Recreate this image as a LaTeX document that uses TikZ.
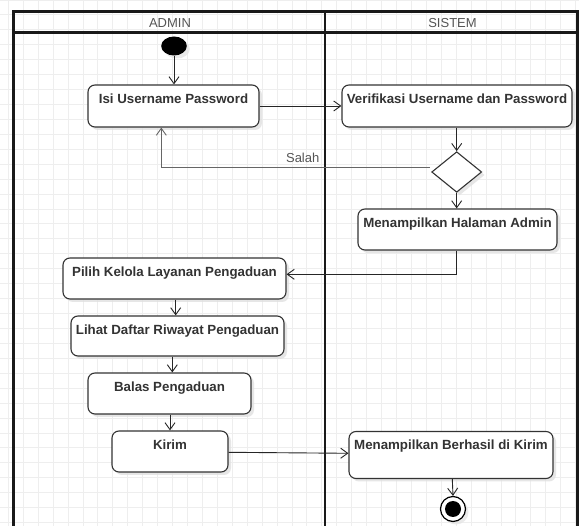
\documentclass[tikz,border=0pt]{standalone}
\usepackage{fontspec}
\setmainfont{Liberation Sans}
\usetikzlibrary{arrows.meta,shapes.geometric,shadows,calc}

\definecolor{gridgray}{HTML}{EEEEEE}
\definecolor{inkgray}{HTML}{333333}
\definecolor{labelgray}{HTML}{555555}

\tikzset{
  act/.style={draw=inkgray, line width=1.1pt, rounded corners=7pt, fill=white,
    font=\fontsize{13.3}{15}\selectfont\bfseries, text=inkgray,
    inner xsep=0pt, inner ysep=0pt, text height=19pt,
    drop shadow={shadow xshift=3pt, shadow yshift=-3pt, fill=black!12, opacity=0.8}},
  decision/.style={diamond, draw=inkgray, line width=1.1pt, fill=white,
    inner sep=0pt, minimum width=50pt, minimum height=40.6pt, aspect=1.23,
    drop shadow={shadow xshift=3pt, shadow yshift=-3pt, fill=black!12, opacity=0.8}},
  flow/.style={draw=black!85, line width=0.9pt, -{Straight Barb[length=7pt,width=10pt,line width=0.9pt]}},
  guardflow/.style={flow, draw=black!60, line width=1.4pt},
  lane/.style={draw=black!90, line width=2.2pt},
  lanetitle/.style={font=\fontsize{13}{15}\selectfont, text=labelgray},
}

\begin{document}
\begin{tikzpicture}[x=1pt, y=-1pt]
\useasboundingbox (0,0) rectangle (579,526);
\fill[white] (0,0) rectangle (579,526);

% background grid
\foreach \i in {0,...,38} {
  \draw[gridgray, line width=0.9pt] ({8.3+14.93*\i},0) -- ({8.3+14.93*\i},526);
}
\foreach \j in {0,...,35} {
  \draw[gridgray, line width=0.9pt] (0,{14.93*\j}) -- (579,{14.93*\j});
}

% swimlanes
\draw[lane] (13.5,526) -- (13.5,11.5) -- (577.5,11.5) -- (577.5,526);
\draw[lane] (13.5,32.5) -- (577.5,32.5);
\draw[lane] (325,11.5) -- (325,526);
\node[lanetitle] (ladmin) at (170,23.5) {ADMIN};
\node[lanetitle] (lsistem) at (452.5,23.5) {SISTEM};

% start and end
\node[ellipse, fill=black, minimum width=25.6pt, minimum height=19pt, inner sep=0pt,
  drop shadow={shadow xshift=3pt, shadow yshift=-3pt, fill=black!10, opacity=0.8}] (start) at (174,46) {};
\node[circle, draw=black, line width=1.2pt, fill=white, minimum size=25pt, inner sep=0pt,
  drop shadow={shadow xshift=3pt, shadow yshift=-3pt, fill=black!10, opacity=0.8}] (end) at (453,509) {};
\node[circle, fill=black, minimum size=16pt, inner sep=0pt] (endcore) at (end) {};

% activities
\node[act, minimum width=171pt, text depth=23pt] (b1) at (173.5,106) {Isi Username Password};
\node[act, minimum width=230pt, text depth=23pt] (b2) at (457,106) {Verifikasi Username dan Password};
\node[decision] (dia) at (456.7,172) {};
\node[act, minimum width=199pt, text depth=22pt] (b3) at (457.5,229.5) {Menampilkan Halaman Admin};
\node[act, minimum width=223pt, text depth=22pt] (b4) at (174.5,278.5) {Pilih Kelola Layanan Pengaduan};
\node[act, minimum width=213pt, text depth=21pt] (b5) at (177.5,336) {Lihat Daftar Riwayat Pengaduan};
\node[act, minimum width=163pt, text depth=22pt] (b6) at (169.5,393.5) {Balas Pengaduan};
\node[act, minimum width=116pt, text depth=22pt] (b7) at (170,451.5) {Kirim};
\node[act, minimum width=204pt, text depth=29pt, text height=18pt] (b8) at (451,455) {Menampilkan Berhasil di Kirim};

% control flow
\draw[flow] (start.south) -- (start.south |- b1.north);
\draw[flow] (b1.east) -- (b2.west);
\draw[flow] ([xshift=-0.3pt]b2.south) -- (dia.north);
\draw[guardflow] ([yshift=4.5pt, xshift=-1pt]dia.west) -| ([xshift=-12.2pt]b1.south)
  node[pos=0.237, above, font=\fontsize{13}{15}\selectfont, text=labelgray, inner sep=4.5pt] (salah) {Salah};
\draw[flow] (dia.south) -- (dia.south |- b3.north);
\draw[flow] ([xshift=-0.8pt]b3.south) |- ([yshift=4.2pt]b4.east);
\draw[flow] ([xshift=1.2pt]b4.south) -- ([xshift=1.2pt]b4.south |- b5.north);
\draw[flow] ([xshift=2.8pt]b6.north |- b5.south) -- ([xshift=2.8pt]b6.north);
\draw[flow] ([xshift=0.5pt]b6.south) -- ([xshift=0.5pt]b6.south |- b7.north);
\draw[flow] ([yshift=-0.8pt]b7.east) -- ([yshift=1.7pt]b8.west);
\draw[flow] ([xshift=1.3pt]b8.south) -- ([xshift=0pt]end.north);
\end{tikzpicture}
\end{document}
